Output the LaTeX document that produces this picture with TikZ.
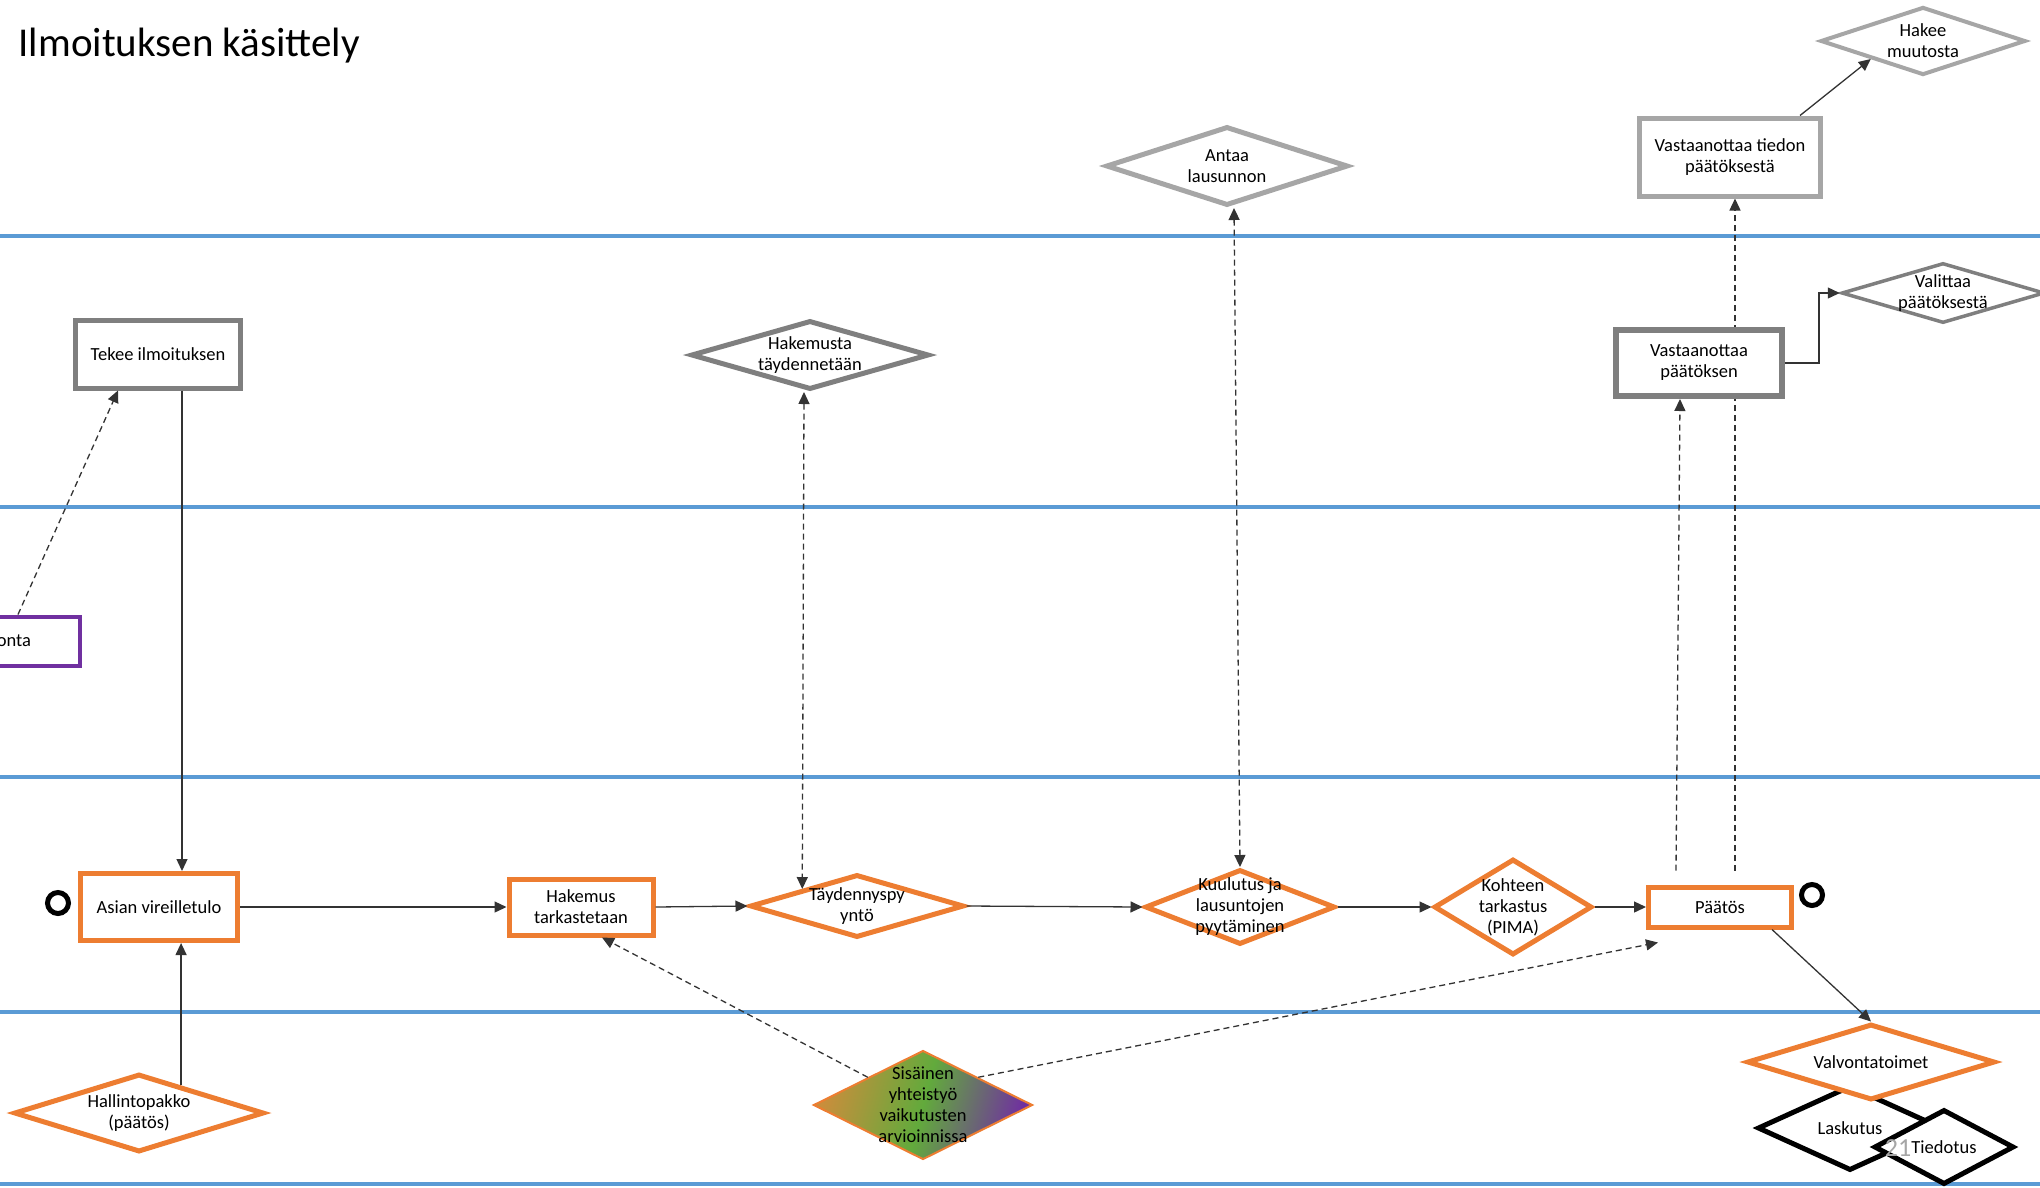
\documentclass[tikz,border=0pt]{standalone}
\usepackage{fontspec}
\setmainfont{Carlito}
\usetikzlibrary{positioning,shapes.geometric,arrows.meta,calc,backgrounds}

\definecolor{kaista}{HTML}{5B9BD5}
\definecolor{oranssi}{HTML}{ED7D31}
\definecolor{vaalea}{HTML}{A6A6A6}
\definecolor{tumma}{HTML}{7F7F7F}
\definecolor{violetti}{HTML}{7030A0}
\definecolor{vihrea}{HTML}{62AA3C}
\definecolor{ruskea}{HTML}{C98E3C}

\tikzset{
  teksti/.style={font=\fontsize{18.5}{21}\selectfont, align=center, text=black},
  laatikko/.style={rectangle, draw=#1, line width=5, fill=white, inner sep=0, teksti},
  vinoneli/.style={diamond, draw=#1, line width=5, fill=white, inner sep=0},
  kaistaviiva/.style={draw=kaista, line width=4.5},
  yhteys/.style={draw=black!80, line width=1.3},
  katko/.style={yhteys, dash pattern=on 6pt off 4pt},
}

\begin{document}
\begin{tikzpicture}[x=1pt, y=-1pt, >={Triangle[length=12pt,width=11pt]}]
\useasboundingbox (0,0) rectangle (2040,1187);

% Kaistat
\begin{scope}[on background layer]
\foreach \y in {236,507,777,1012,1184}
  \draw[kaistaviiva] (0,\y) -- (2040,\y);
\end{scope}

% Otsikko
\node[anchor=base west, font=\fontsize{41}{49}\selectfont] (otsikko) at (15,56) {Ilmoituksen käsittely};

% Ylin kaista
\node[vinoneli=vaalea, line width=4, minimum width=205, minimum height=68,
      label={[teksti]center:{Hakee\\muutosta}}] (hakee) at (1923,41) {};
\node[laatikko=vaalea, minimum width=181, minimum height=78] (vtieto) at (1730,157) {Vastaanottaa tiedon\\päätöksestä};
\node[vinoneli=vaalea, minimum width=242, minimum height=79,
      label={[teksti]center:{Antaa\\lausunnon}}] (antaa) at (1227,166) {};

% Toinen kaista
\node[laatikko=tumma, minimum width=165, minimum height=68] (tekee) at (158,354) {Tekee ilmoituksen};
\node[vinoneli=tumma, minimum width=238, minimum height=69,
      label={[teksti]center:{Hakemusta\\täydennetään}}] (htayd) at (810,355) {};
\node[laatikko=tumma, line width=6, minimum width=166, minimum height=66] (vpaatos) at (1699,363) {Vastaanottaa\\päätöksen};
\node[vinoneli=tumma, line width=3.5, minimum width=203, minimum height=60,
      label={[teksti]center:{Valittaa\\päätöksestä}}] (valittaa) at (1943,293) {};

% Kolmas kaista
\node[laatikko=violetti, line width=4, minimum width=190, minimum height=49, anchor=east] (neuvonta) at (82,641) {\makebox[92pt][r]{onta}};

% Prosessi
\node[circle, draw=black, line width=5, minimum size=21, inner sep=0] (alku) at (58,903) {};
\node[laatikko=oranssi, minimum width=157, minimum height=67] (asian) at (159,907) {Asian vireilletulo};
\node[laatikko=oranssi, minimum width=144, minimum height=56] (hakemus) at (581,907) {Hakemus\\tarkastetaan};
\node[vinoneli=oranssi, minimum width=214, minimum height=63,
      label={[teksti]center:{Täydennyspy\\yntö}}] (taydennys) at (857,906) {};
\node[vinoneli=oranssi, minimum width=190, minimum height=75,
      label={[teksti]center:{Kuulutus ja\\lausuntojen\\pyytäminen}}] (kuulutus) at (1240,907) {};
\node[vinoneli=oranssi, minimum width=158, minimum height=96,
      label={[teksti]center:{Kohteen\\tarkastus\\(PIMA)}}] (kohde) at (1513,907) {};
\node[laatikko=oranssi, minimum width=143, minimum height=40] (paatos) at (1720,907) {Päätös};
\node[circle, draw=black, line width=5, minimum size=21, inner sep=0] (loppu) at (1812,895) {};

% Alin kaista
\node[vinoneli=oranssi, minimum width=250, minimum height=78,
      label={[teksti]center:{Hallintopakko\\(päätös)}}] (hallinto) at (139,1113) {};
\node[diamond, draw=oranssi, line width=2, inner sep=0, minimum width=219, minimum height=109,
      left color=ruskea, right color=violetti, middle color=vihrea, shading angle=75,
      label={[teksti]center:{Sisäinen\\yhteistyö\\vaikutusten\\arvioinnissa}}] (sisainen) at (923,1105) {};
\node[vinoneli=black, minimum width=185, minimum height=85,
      label={[teksti]center:Laskutus}] (laskutus) at (1850,1128) {};
\node[vinoneli=black, minimum width=140, minimum height=75,
      label={[teksti]center:Tiedotus}] (tiedotus) at (1944,1147) {};
\node[vinoneli=oranssi, minimum width=248, minimum height=76,
      label={[teksti]center:Valvontatoimet}] (valvonta) at (1871,1062) {};
\node[text=vaalea, font=\fontsize{26}{30}\selectfont] (sivu) at (1898,1148) {21};

% Yhteydet
\draw[yhteys, ->] ([xshift=24]tekee.south) -- ([xshift=23]asian.north);
\draw[katko, ->] ([xshift=33]neuvonta.north) -- ([xshift=-40]tekee.south);
\draw[yhteys, ->] ($(hallinto.north)!0.33!(hallinto.east)$) coordinate (hp) -- (hp |- asian.south);
\draw[yhteys, ->] (asian.east) -- (hakemus.west);
\draw[yhteys, ->] (hakemus.east) -- (taydennys.west);
\draw[yhteys, ->] (taydennys.east) -- (kuulutus.west);
\draw[yhteys, ->] (kuulutus.east) -- (kohde.west);
\draw[yhteys, ->] (kohde.east) -- (paatos.west);
\draw[katko, <->] ([xshift=-6]htayd.south) -- (taydennys.north west);
\draw[katko, <->] ([xshift=7]antaa.south) -- (kuulutus.north);
\draw[katko, ->] (sisainen.north west) -- ([xshift=21]hakemus.south);
\draw[katko, ->] (sisainen.north east) -- ([xshift=12,yshift=-13]paatos.south west);
\draw[katko, ->] ([xshift=-44,yshift=14]paatos.north) -- ([xshift=-19]vpaatos.south);
\begin{scope}[on background layer]
\draw[katko, ->] ([xshift=15,yshift=14]paatos.north) -- ([xshift=5]vtieto.south);
\end{scope}
\draw[yhteys, ->] (vpaatos.east) -- ++(34,0) |- (valittaa.west);
\draw[yhteys, ->] ([xshift=70]vtieto.north) -- (hakee.south west);
\draw[yhteys, ->] ([xshift=-22]paatos.south east) -- (valvonta.north);

\end{tikzpicture}
\end{document}
